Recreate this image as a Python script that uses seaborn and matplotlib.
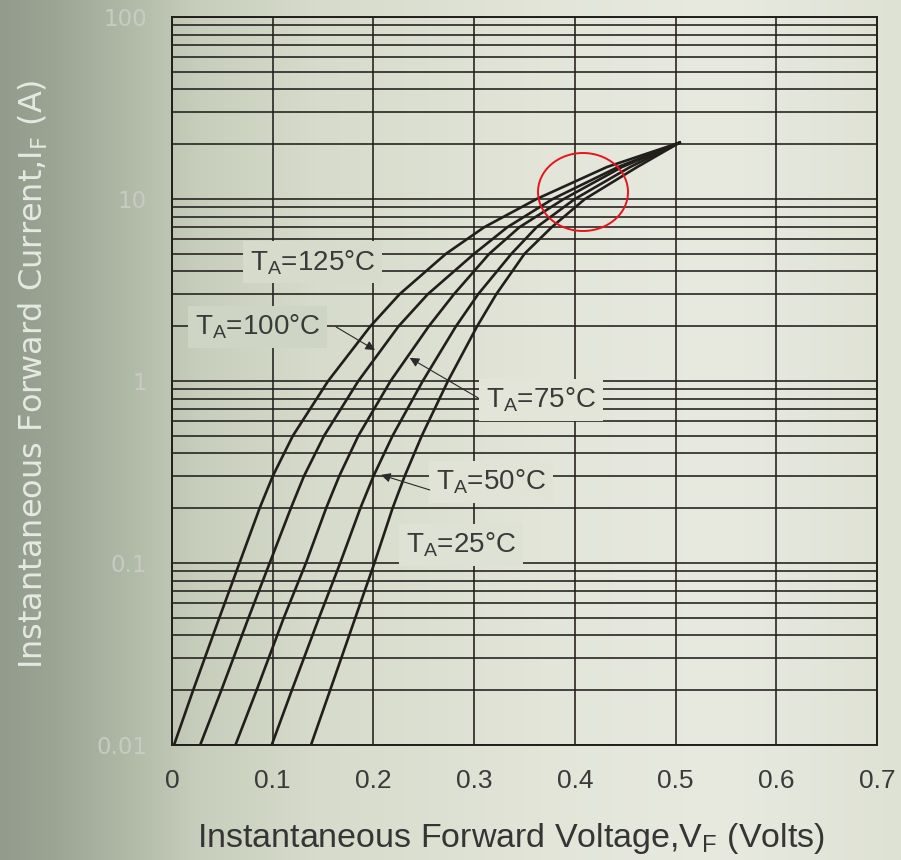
import numpy as np
import pandas as pd
import matplotlib
matplotlib.use("Agg")
import matplotlib.pyplot as plt
from matplotlib.patches import Ellipse
from matplotlib.ticker import NullFormatter, LogLocator
import seaborn as sns

# forward current (A) vs forward voltage (V)
i_125 = [0.01, 0.02, 0.05, 0.1, 0.2, 0.3, 0.5, 1, 2, 3, 5, 7, 10, 15, 20.4]
v_125 = [0.002, 0.021, 0.047, 0.067, 0.087, 0.100, 0.120, 0.155, 0.197, 0.226, 0.272, 0.310, 0.362, 0.432, 0.504]

i_100 = [0.01, 0.02, 0.05, 0.1, 0.2, 0.3, 0.5, 1, 2, 3, 5, 7, 10, 15, 20.4]
v_100 = [0.028, 0.049, 0.076, 0.097, 0.118, 0.131, 0.151, 0.185, 0.225, 0.254, 0.300, 0.333, 0.378, 0.443, 0.504]

i_75 = [0.01, 0.02, 0.05, 0.1, 0.2, 0.3, 0.5, 1, 2, 3, 5, 7, 10, 15, 20.4]
v_75 = [0.063, 0.084, 0.111, 0.133, 0.153, 0.166, 0.185, 0.217, 0.255, 0.280, 0.315, 0.345, 0.389, 0.447, 0.504]

i_50 = [0.01, 0.02, 0.05, 0.1, 0.2, 0.3, 0.5, 1, 2, 3, 5, 7, 10, 15, 20.4]
v_50 = [0.099, 0.119, 0.146, 0.167, 0.187, 0.200, 0.219, 0.249, 0.282, 0.304, 0.337, 0.362, 0.400, 0.455, 0.504]

i_25 = [0.01, 0.02, 0.05, 0.1, 0.2, 0.3, 0.5, 1, 2, 3, 5, 7, 10, 15, 20.4]
v_25 = [0.138, 0.157, 0.182, 0.201, 0.219, 0.231, 0.248, 0.274, 0.303, 0.322, 0.350, 0.377, 0.410, 0.462, 0.504]

temps = ["125", "100", "75", "50", "25"]
x_ticks = [0, 0.1, 0.2, 0.3, 0.4, 0.5, 0.6, 0.7]
x_labels = ["0", "0.1", "0.2", "0.3", "0.4", "0.5", "0.6", "0.7"]
y_ticks = [0.01, 0.1, 1, 10, 100]
y_labels = ["0.01", "0.1", "1", "10", "100"]

frames = []
for t, v, i in zip(temps, [v_125, v_100, v_75, v_50, v_25], [i_125, i_100, i_75, i_50, i_25]):
    frames.append(pd.DataFrame({"V": v, "I": i, "T": t}))
df = pd.concat(frames, ignore_index=True)

# background: greyish-green photo-like gradient, darker on the left
stops_x = [0.0, 0.06, 0.14, 0.22, 0.35, 0.6, 0.8, 1.0]
stops_c = np.array([[146, 156, 140], [156, 165, 148], [176, 184, 166], [200, 206, 188],
                    [214, 219, 203], [226, 229, 216], [232, 234, 224], [222, 226, 212]]) / 255.0
xs = np.linspace(0, 1, 451)
row = np.stack([np.interp(xs, stops_x, stops_c[:, k]) for k in range(3)], axis=1)
grad = np.repeat(row[None, :, :], 10, axis=0)


def bg_at(fx):
    return tuple(np.interp(fx, stops_x, stops_c[:, k]) for k in range(3))


fig = plt.figure(figsize=(9.01, 8.6), dpi=100)
bg = fig.add_axes([0, 0, 1, 1], zorder=-1)
bg.imshow(grad, aspect="auto", extent=[0, 1, 0, 1])
bg.axis("off")

ax = fig.add_axes([172 / 901, 115 / 860, 705 / 901, 728 / 860])
ax.set_facecolor("none")

ink = "#221e1c"
sns.lineplot(data=df, x="V", y="I", hue="T", units="T", estimator=None,
             palette=[ink] * 5, legend=False, linewidth=1.9, ax=ax, zorder=3)

ax.set_yscale("log")
ax.set_xlim(0, 0.7)
ax.set_ylim(0.01, 100)
ax.set_xticks(x_ticks, x_labels)
ax.set_yticks(y_ticks, y_labels)
ax.yaxis.set_minor_locator(LogLocator(base=10, subs=np.arange(2, 10)))
ax.yaxis.set_minor_formatter(NullFormatter())
ax.tick_params(which="both", length=0)
ax.tick_params(axis="x", pad=17, labelsize=19, labelcolor="#3a3a3a")
ax.tick_params(axis="y", pad=18, labelsize=16.5, labelcolor="#c8cac4")
for lab in ax.get_xticklabels():
    lab.set_family("Liberation Sans")
for lab in ax.get_yticklabels():
    lab.set_family("DejaVu Sans")

ax.set_axisbelow(True)
ax.grid(True, which="both", axis="y", color=ink, linewidth=1.15)
ax.grid(True, which="major", axis="x", color=ink, linewidth=1.15)
for s in ax.spines.values():
    s.set_color(ink)
    s.set_linewidth(1.4)

ax.set_xlabel(r"Instantaneous Forward Voltage,V$_\mathregular{F}$ (Volts)",
              family="Liberation Sans", fontsize=24.5, color="#353535")
ax.xaxis.label.set_va("center")
ax.xaxis.set_label_coords(0.481, -0.128)
ax.set_ylabel(r"Instantaneous Forward Current,I$_\mathregular{F}$ (A)",
              family="DejaVu Sans", fontsize=23, color="#e6e8e2")
ax.yaxis.label.set_va("center")
ax.yaxis.set_label_coords(-0.197, 0.51)

# curve labels (left x, current) and arrows (tail -> tip)
label_pos = {"125": (0.0775, 4.5), "100": (0.0228, 1.98), "75": (0.312, 0.787),
             "50": (0.262, 0.279), "25": (0.2324, 0.1256)}
arrows = {"100": ((0.163, 1.98), (0.2016, 1.48)),
          "75": ((0.304, 0.807), (0.236, 1.34)),
          "50": ((0.256, 0.252), (0.2075, 0.305))}

for t in temps:
    lx, ly = label_pos[t]
    fx = (172 + lx * 1007 + 65) / 901
    ax.text(lx, ly, r"T$_\mathregular{A}$=" + t + "°C", family="Liberation Sans",
            fontsize=20, color="#3a3a3a", ha="left", va="center", zorder=2.5,
            bbox=dict(boxstyle="square,pad=0.25", facecolor=bg_at(fx), edgecolor="none"))

for t, (tail, tip) in arrows.items():
    ax.annotate("", xy=tip, xytext=tail, zorder=4,
                arrowprops=dict(arrowstyle="-|>", color="#2a2a2a", lw=0.8,
                                mutation_scale=14, shrinkA=0, shrinkB=0))

ax.add_patch(Ellipse(((583 - 172) / 705, (745 - 192) / 728), 90 / 705, 78 / 728,
                     transform=ax.transAxes, fill=False, edgecolor="#e8141c",
                     linewidth=1.4, zorder=5, clip_on=False))

fig.savefig("out.png", dpi=100)
